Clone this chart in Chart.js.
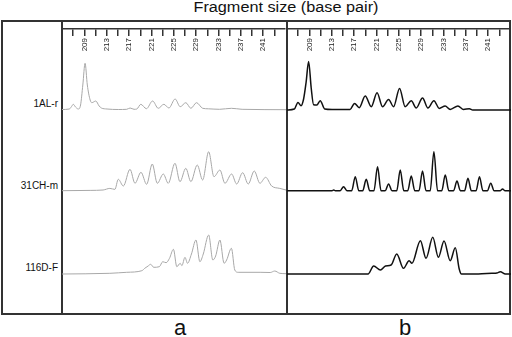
<!DOCTYPE html>
<html><head><meta charset="utf-8">
<script src="https://cdn.jsdelivr.net/npm/chart.js@4/dist/chart.umd.min.js"></script>
<style>
html,body{margin:0;padding:0;background:#fff;}
#wrap{position:relative;width:512px;height:337px;overflow:hidden;font-family:"Liberation Sans",Arial,sans-serif;color:#111;}
.abs{position:absolute;}
canvas{position:absolute;}
.row{position:absolute;left:0;width:58px;text-align:right;font-size:10px;height:14px;line-height:14px;}
.pl{position:absolute;width:100px;text-align:center;font-size:22px;height:22px;line-height:22px;}
</style></head><body><div id="wrap">
<div class="abs" style="left:62px;width:448px;top:-1px;height:17px;line-height:17px;font-size:14px;text-align:center;transform:scaleX(1.16);">Fragment size (base pair)</div>
<div class="abs" style="left:1px;top:20px;width:510px;height:295px;border:2px solid #333;box-sizing:border-box;"></div>
<div class="abs" style="left:61px;top:20px;width:2px;height:294px;background:#333;"></div>
<div class="abs" style="left:286px;top:20px;width:2px;height:294px;background:#333;"></div>
<div class="row" style="top:97px;">1AL-r</div>
<div class="row" style="top:179px;">31CH-m</div>
<div class="row" style="top:261px;">116D-F</div>
<div class="pl" style="left:130px;top:317px;">a</div>
<div class="pl" style="left:355px;top:317px;">b</div>
<canvas id="axA" width="224" height="40" style="left:62px;top:21px;"></canvas>
<canvas id="axB" width="224" height="40" style="left:287px;top:21px;"></canvas>
<canvas id="cA" width="224" height="283" style="left:62px;top:30px;"></canvas>
<canvas id="cB" width="224" height="283" style="left:287px;top:30px;"></canvas>
</div>
<script>
// Fragment size axis (base pairs)
const sizeTicks = [207,209,211,213,215,217,219,221,223,225,227,229,231,233,235,237,239,241,243];
const sizeLabels = [209,213,217,221,225,229,233,237,241];
const sizeMin = 205, sizeMax = 244.8;
const samples = ['1AL-r','31CH-m','116D-F'];

// Panel a traces: [fragment size (bp), signal]
const panelA_1AL = [[205,0.5],[206.3,1],[206.7,3.5],[207.0,5.7],[207.4,3],[207.9,1],[208.3,5],[208.7,25],[209.1,46.7],[209.5,25],[210.0,10],[210.3,7.3],[211.0,9],[211.6,4],[212.0,2],[213,1],[215,0.5],[216.5,0.7],[217.1,2],[217.8,0.7],[218.3,1],[219.0,5.7],[220.0,1.3],[221.1,9],[222.1,1.7],[223.1,5.7],[224.0,2],[225.1,11],[226.0,3.3],[227.0,7.3],[227.9,1.7],[228.9,7.3],[230.0,1.7],[231,1.2],[233,0.7],[235.1,1.7],[237,0.7],[244.8,0.3]];
const panelA_31CH = [[205,0],[210,0.3],[212.3,0.7],[213.5,2.3],[214.4,1.3],[215.0,11.4],[215.9,4.7],[217.08,21.4],[217.97,7.4],[219.03,18.4],[220.04,6.4],[221.04,26.7],[221.93,7.4],[223.0,16.7],[223.88,7.4],[225.07,27.4],[225.96,9],[227.0,22.4],[227.9,9],[229.03,25.7],[229.99,10.7],[231.06,39],[232.0,14],[233.06,20.7],[233.95,7.4],[235.14,16.7],[236.03,6.7],[237.1,18],[238.09,6.7],[239.16,19.7],[240.17,7.4],[241.18,13.4],[242.25,4.7],[243.7,2.3],[244.8,0.7]];
const panelA_116D = [[205,0],[213.5,0.7],[216.5,1.7],[219.2,3.3],[219.7,5.7],[220.3,8],[220.75,9.7],[221.3,6.7],[222.3,7.3],[222.9,12.3],[223.5,11.3],[224.1,15.7],[224.8,24.7],[225.4,7.3],[226.0,10.7],[226.3,8.3],[226.85,16.7],[227.3,10.7],[228.0,20],[228.8,34],[229.5,12.3],[230.1,20],[231.06,39],[231.8,14],[232.3,18],[233.06,34],[233.8,10.7],[234.25,14],[235.1,25.7],[235.7,4],[236.3,1.7],[240.2,1.7],[242.0,1.5],[242.8,3],[243.7,0.7],[244.8,0.3]];

// Panel b traces
const panelB_1AL = [[205,0],[206.3,1],[206.95,7.6],[207.5,4.3],[207.95,11],[208.4,28],[208.84,48.6],[209.3,22],[209.72,5.3],[210.3,5],[210.9,9.3],[211.7,1],[213,0.5],[216.2,0.5],[217.0,6.6],[217.84,2.3],[218.9,14],[219.97,3.3],[221.0,17.3],[221.98,3.3],[223.05,10.6],[223.93,3.3],[225.0,21.6],[226.0,3.3],[227.08,9.3],[227.96,2],[229.08,12],[230.04,2],[231.1,9.3],[232.05,1.6],[233.1,4],[234.0,0.6],[235.37,4],[236.37,0.6],[237.4,1.3],[238,0],[244.8,0]];
const panelB_31CH = [[205,0],[213.0,0],[213.3,0.7],[213.6,0],[214.45,0],[215.05,4],[215.65,0],[216.5,0],[217.13,14],[217.75,0],[218.45,0],[219.08,11.4],[219.7,0],[220.45,0],[221.09,24],[221.7,0],[222.45,0],[223.05,6.7],[223.65,0],[224.5,0],[225.12,20.7],[225.75,0],[226.45,0],[227.08,14.7],[227.7,0],[228.45,0],[229.08,19.7],[229.7,0],[230.45,0],[231.1,39],[231.75,0],[232.5,0],[233.12,15.7],[233.75,0],[234.6,0],[235.2,9.7],[235.8,0],[236.55,0],[237.15,12.4],[237.75,0],[238.6,0],[239.2,14],[239.8,0],[240.6,0],[241.2,7.4],[241.8,0],[242.9,0],[243.3,1.7],[243.7,0],[244.8,0]];
const panelB_116D = [[205,0],[219.4,0],[220.4,8],[221.6,4],[222.5,8],[223.5,9],[224.5,20],[225.7,5.7],[226.7,13.3],[227.2,10.7],[228.7,33.3],[229.7,15.7],[230.9,36.7],[231.9,16.7],[232.9,33],[234.0,13.3],[234.9,26.3],[235.6,5],[236.0,0],[239,0],[241.4,0.7],[242.3,1],[242.9,2.3],[243.8,0],[244.8,0]];

// layout: page y of each row's zero line, and plot canvas top/bottom
const rowZeroY = [110, 190.7, 274];
const plotTop = 30, plotBottom = 313;

function axisChart(id){
  new Chart(document.getElementById(id), {
    type:'line', data:{datasets:[]},
    options:{responsive:false, animation:false, devicePixelRatio:1,
      layout:{padding:0},
      plugins:{legend:{display:false}, tooltip:{enabled:false}},
      scales:{
        x:{type:'linear', position:'bottom', min:sizeMin, max:sizeMax,
          afterBuildTicks:s=>{ s.ticks = sizeTicks.map(v=>({value:v})); },
          afterFit:s=>{ s.height = 32; },
          grid:{drawOnChartArea:false, drawTicks:true, tickLength:7, color:'#333', lineWidth:1.5},
          border:{display:true, color:'#333', width:1.5},
          ticks:{autoSkip:false, minRotation:90, maxRotation:90, padding:2, color:'#222',
            font:{family:'Liberation Sans', size:8},
            callback:v=> sizeLabels.includes(v) ? String(v) : ''}
        },
        y:{display:false, min:0, max:1}
      }
    }
  });
}

function traceChart(id, traces, color, width){
  const scales = {
    x:{type:'linear', axis:'x', display:false, min:sizeMin, max:sizeMax}
  };
  rowZeroY.forEach((z,i)=>{
    scales['yRow'+i] = {type:'linear', axis:'y', position:'left', display:false, min:-(plotBottom - z), max:(z - plotTop)};
  });
  new Chart(document.getElementById(id), {
    type:'line',
    data:{datasets: traces.map((t,i)=>({
      label:samples[i],
      data:t.map(p=>({x:p[0], y:p[1]})),
      xAxisID:'x',
      yAxisID:'yRow'+i,
      borderColor:color, borderWidth:width, pointRadius:0, fill:false,
      cubicInterpolationMode:'monotone'
    }))},
    options:{responsive:false, animation:false, devicePixelRatio:1,
      layout:{padding:0},
      plugins:{legend:{display:false}, tooltip:{enabled:false}},
      scales
    }
  });
}

axisChart('axA');
axisChart('axB');
traceChart('cA', [panelA_1AL, panelA_31CH, panelA_116D], '#a8a8a8', 1);
traceChart('cB', [panelB_1AL, panelB_31CH, panelB_116D], '#111', 1.5);
</script>
</body></html>
